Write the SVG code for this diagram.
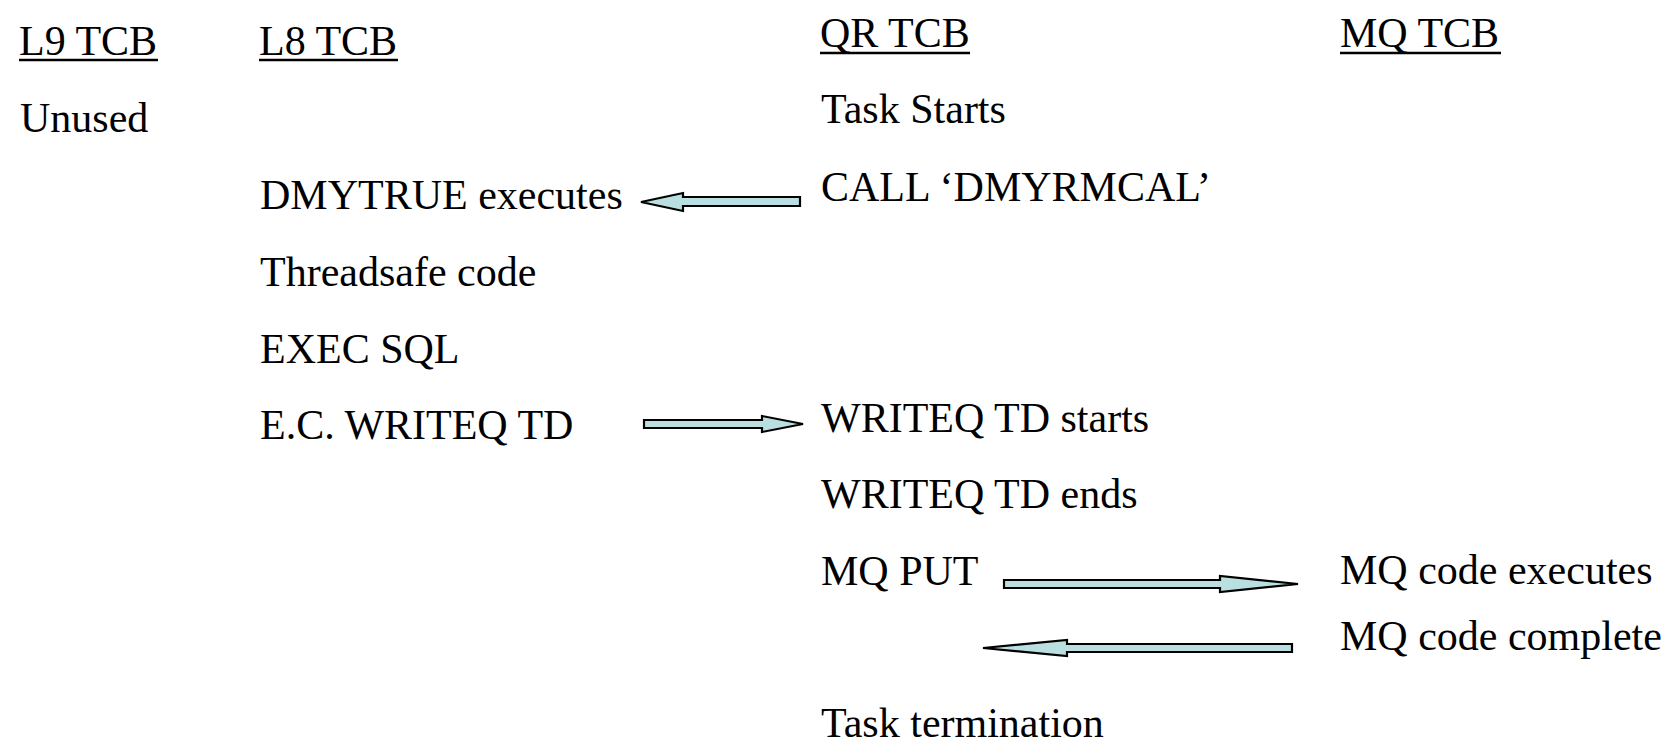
<svg xmlns="http://www.w3.org/2000/svg" width="1674" height="743" viewBox="0 0 1674 743">
  <style>
    text { font-family: "Liberation Serif", "Times New Roman", serif; font-size: 42px; fill: #000; }
    .uline { stroke: #000; stroke-width: 2.6; }
    .arrow { fill: #b9dfe1; stroke: #000; stroke-width: 2.2; stroke-linejoin: miter; }
  </style>
  <rect width="1674" height="743" fill="#fff"/>

  <!-- column headers, underlined -->
  <g id="col-l9"><text x="19" y="55">L9 TCB</text><line class="uline" x1="19" y1="60" x2="158" y2="60"/></g>
  <g id="col-l8"><text x="259" y="55">L8 TCB</text><line class="uline" x1="259" y1="60" x2="398" y2="60"/></g>
  <g id="col-qr"><text x="820" y="47">QR TCB</text><line class="uline" x1="820" y1="53" x2="970" y2="53"/></g>
  <g id="col-mq"><text x="1340" y="47">MQ TCB</text><line class="uline" x1="1340" y1="53" x2="1501" y2="53"/></g>

  <!-- L9 column -->
  <g id="l9-unused"><text x="20" y="132">Unused</text></g>

  <!-- L8 column -->
  <g id="l8-dmytrue"><text x="260" y="209">DMYTRUE executes</text></g>
  <g id="l8-threadsafe"><text x="260" y="286">Threadsafe code</text></g>
  <g id="l8-execsql"><text x="260" y="363">EXEC SQL</text></g>
  <g id="l8-writeq"><text x="260" y="439">E.C. WRITEQ TD</text></g>

  <!-- QR column -->
  <g id="qr-start"><text x="821" y="123">Task Starts</text></g>
  <g id="qr-call"><text x="821" y="201">CALL ‘DMYRMCAL’</text></g>
  <g id="qr-writeq-start"><text x="821" y="432">WRITEQ TD starts</text></g>
  <g id="qr-writeq-end"><text x="821" y="508">WRITEQ TD ends</text></g>
  <g id="qr-mqput"><text x="821" y="585">MQ PUT</text></g>
  <g id="qr-term"><text x="821" y="737">Task termination</text></g>

  <!-- MQ column -->
  <g id="mq-exec"><text x="1340" y="584">MQ code executes</text></g>
  <g id="mq-complete"><text x="1340" y="650">MQ code complete</text></g>

  <!-- block arrows between columns -->
  <g id="connectors">
    <polygon class="arrow" points="800,197 683,197 683,193 641,202 683,211 683,206 800,206"/>
    <polygon class="arrow" points="644,420 762,420 762,416 803,424 762,432 762,428 644,428"/>
    <polygon class="arrow" points="1004,580 1220,580 1220,576 1298,584 1220,592 1220,588 1004,588"/>
    <polygon class="arrow" points="1292,644 1067,644 1067,640 983,648 1067,656 1067,652 1292,652"/>
  </g>
</svg>
